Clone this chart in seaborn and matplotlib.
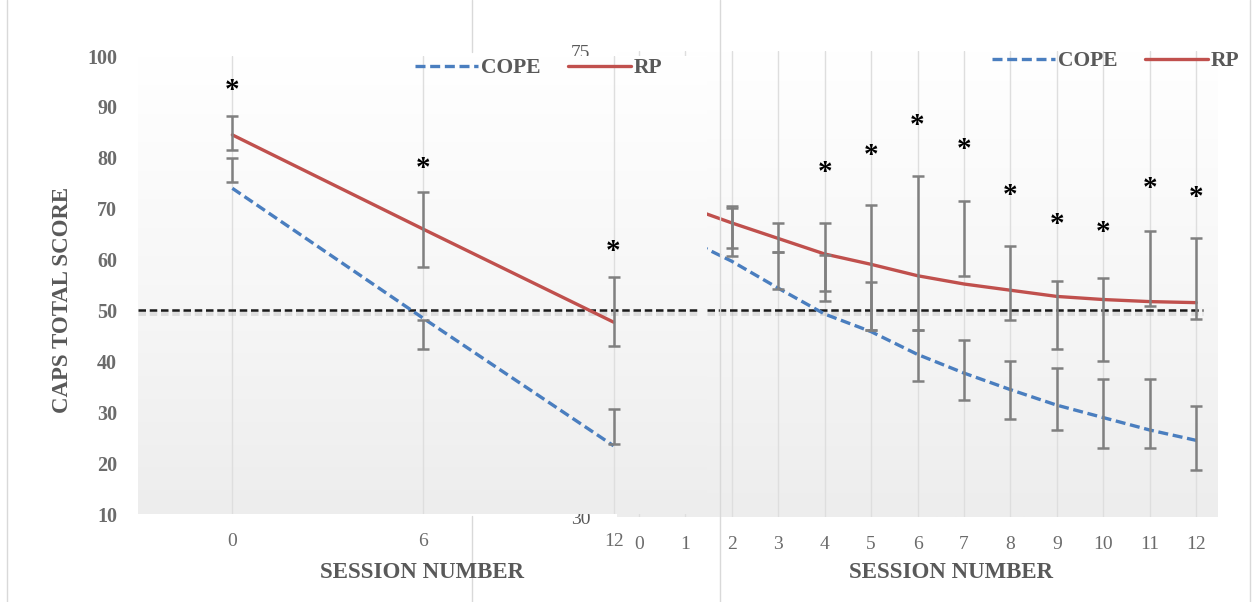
import numpy as np
import seaborn as sns
import matplotlib.pyplot as plt
import matplotlib.patheffects as pe
from matplotlib.colors import LinearSegmentedColormap
from matplotlib.lines import Line2D
from matplotlib.transforms import ScaledTranslation

# ---- data: left panel (sessions 0, 6, 12) ----
left_sessions = [0, 6, 12]
left_cope_line = [74.0, 48.5, 23.4]
left_rp_line = [84.5, 66.0, 47.7]
left_cope_mean = [77.6, 45.3, 27.2]
left_cope_err = [2.4, 2.8, 3.4]
left_rp_mean = [84.9, 65.9, 49.8]
left_rp_err = [3.3, 7.4, 6.8]
left_star = [94.1, 78.6, 62.3]

# ---- data: right panel (every session) ----
right_line_sessions = [1, 2, 3, 4, 5, 6, 7, 8, 9, 10, 11, 12]
right_cope_line = [56.9, 54.7, 52.1, 49.6, 47.9, 45.7, 43.9, 42.3, 40.8, 39.6, 38.4, 37.4]
right_rp_line = [60.0, 58.4, 56.9, 55.4, 54.4, 53.3, 52.5, 51.9, 51.3, 51.0, 50.8, 50.7]
right_sessions = [2, 3, 4, 5, 6, 7, 8, 9, 10, 11, 12]
right_rp_mean = [58.0, 57.0, 55.1, 54.1, 55.5, 56.9, 52.6, 49.5, 49.1, 54.0, 53.0]
right_rp_err = [2.05, 1.4, 3.3, 6.0, 7.4, 3.6, 3.6, 3.3, 4.0, 3.6, 3.9]
right_cope_mean = [57.5, 53.8, 53.1, 50.4, 45.6, 44.2, 42.3, 41.4, 40.0, 40.0, 37.6]
right_cope_err = [2.3, 1.8, 2.2, 2.3, 2.5, 2.9, 2.8, 3.0, 3.3, 3.3, 3.1]
right_star_sessions = [4, 5, 6, 7, 8, 9, 10, 11, 12]
right_star = [63.7, 65.3, 68.2, 65.9, 61.4, 58.6, 57.9, 62.1, 61.2]

cutoff = 50

BLUE = "#4a7ebf"
RED = "#c0504d"
GRAY = "#6b6b6b"
BAR = "#808080"

sns.set_style("white")
plt.rcParams["font.family"] = ["Liberation Serif", "DejaVu Serif"]

W, H = 1255, 602
fig = plt.figure(figsize=(W / 100, H / 100), dpi=100)
fig.patch.set_facecolor("white")

ax2 = fig.add_axes([617 / W, 1 - 517 / H, 601 / W, 466 / H])
ax1 = fig.add_axes([138 / W, 1 - 514 / H, 569 / W, 458 / H])
ax2.set_zorder(1)
ax1.set_zorder(2)

bg = LinearSegmentedColormap.from_list("bg", ["#ededed", "#f7f7f7", "#ffffff"])


def style_axes(ax):
    grad = np.linspace(0, 1, 256).reshape(-1, 1)
    ax.imshow(grad, extent=[0, 1, 0, 1], transform=ax.transAxes, cmap=bg,
              aspect="auto", origin="lower", zorder=-1)
    for s in ax.spines.values():
        s.set_visible(False)
    ax.grid(axis="x", color="#dedede", lw=1)
    ax.grid(axis="y", visible=False)
    ax.tick_params(length=0)


def add_stars(ax, xs, ys):
    shift = ax.transData + ScaledTranslation(0, -4 / 100, fig.dpi_scale_trans)
    for x, y in zip(xs, ys):
        ax.text(x, y, "*", ha="center", va="center", fontsize=21,
                fontweight="bold", color="black", transform=shift, zorder=5)


dash_blue = (0, (3, 1.4))
shadow = [pe.SimpleLineShadow(offset=(0, -2), shadow_color="gray", alpha=0.2, linewidth=3.5),
          pe.Normal()]

# ---- left panel ----
style_axes(ax1)
ax1.axhline(cutoff, xmin=0, xmax=0.982, color="#1a1a1a", lw=1.8,
            linestyle=(0, (3, 1.5)), path_effects=shadow, zorder=2)
sns.lineplot(x=left_sessions, y=left_cope_line, ax=ax1, color=BLUE, lw=2.4,
             linestyle=dash_blue, label="COPE", zorder=3)
sns.lineplot(x=left_sessions, y=left_rp_line, ax=ax1, color=RED, lw=2.4,
             label="RP", zorder=3)
ax1.errorbar(left_sessions, left_rp_mean, yerr=left_rp_err, fmt="none",
             ecolor=BAR, elinewidth=1.8, capsize=4, capthick=1.8, zorder=4)
ax1.errorbar(left_sessions, left_cope_mean, yerr=left_cope_err, fmt="none",
             ecolor=BAR, elinewidth=1.8, capsize=4, capthick=1.8, zorder=4)
add_stars(ax1, left_sessions, left_star)

ax1.set_xlim(-2.97, 14.94)
ax1.set_ylim(10, 100)
ax1.set_xticks(left_sessions)
ax1.set_yticks(range(10, 101, 10))
ax1.tick_params(axis="x", labelsize=14, labelcolor=GRAY, pad=14)
ax1.tick_params(axis="y", labelsize=14.5, labelcolor=GRAY, pad=15)
for lab in ax1.get_yticklabels():
    lab.set_fontweight("bold")
ax1.set_ylabel("CAPS TOTAL SCORE", fontsize=16.5, fontweight="bold", color="#595959")
ax1.yaxis.set_label_coords((62 - 138) / 569, (514 - 300) / 458)
ax1.yaxis.label.set_va("center")
ax1.set_xlabel("SESSION NUMBER", fontsize=16.5, fontweight="bold", color="#595959")
ax1.xaxis.set_label_coords((422 - 138) / 569, (514 - 573) / 458)
ax1.xaxis.label.set_va("center")
ax1.legend(loc="center", bbox_to_anchor=(539 / W, 1 - 68 / H),
           bbox_transform=fig.transFigure, ncol=2, frameon=False,
           handlelength=2.9, handletextpad=0.15, columnspacing=1.3,
           prop={"weight": "bold", "size": 15.5}, labelcolor="#595959")

# ---- right panel ----
style_axes(ax2)
ax2.axhline(cutoff, xmin=0, xmax=0.975, color="#1a1a1a", lw=1.8,
            linestyle=(0, (3, 1.5)), path_effects=shadow, zorder=2)
sns.lineplot(x=right_line_sessions, y=right_cope_line, ax=ax2, color=BLUE, lw=2.4,
             linestyle=dash_blue, label="COPE", zorder=3)
sns.lineplot(x=right_line_sessions, y=right_rp_line, ax=ax2, color=RED, lw=2.4,
             label="RP", zorder=3)
ax2.errorbar(right_sessions, right_rp_mean, yerr=right_rp_err, fmt="none",
             ecolor=BAR, elinewidth=1.8, capsize=4, capthick=1.8, zorder=4)
ax2.errorbar(right_sessions, right_cope_mean, yerr=right_cope_err, fmt="none",
             ecolor=BAR, elinewidth=1.8, capsize=4, capthick=1.8, zorder=4)
add_stars(ax2, right_star_sessions, right_star)

ax2.set_xlim(-0.47, 12.47)
ax2.set_ylim(30, 75)
ax2.set_xticks(range(0, 13))
ax2.set_yticks(range(30, 76, 5))
ax2.tick_params(axis="x", labelsize=14, labelcolor=GRAY, pad=14)
ax2.tick_params(axis="y", labelsize=14, labelcolor="#595959", pad=19)
ax2.set_xlabel("SESSION NUMBER", fontsize=16.5, fontweight="bold", color="#595959")
ax2.xaxis.set_label_coords((951 - 617) / 601, (517 - 573) / 466)
ax2.xaxis.label.set_va("center")
ax2.legend(loc="center", bbox_to_anchor=(1116 / W, 1 - 61 / H),
           bbox_transform=fig.transFigure, ncol=2, frameon=False,
           handlelength=2.9, handletextpad=0.15, columnspacing=1.3,
           prop={"weight": "bold", "size": 15.5}, labelcolor="#595959")

# panel frame lines
for x0, y0, y1 in [(7, 0, H), (720, 0, H), (1250, 0, H), (472, 0, 52), (472, 516, H)]:
    fig.add_artist(Line2D([x0 / W, x0 / W], [1 - y0 / H, 1 - y1 / H],
                          transform=fig.transFigure, color="#d9d9d9", lw=1))

fig.savefig("out.png", dpi=100)
